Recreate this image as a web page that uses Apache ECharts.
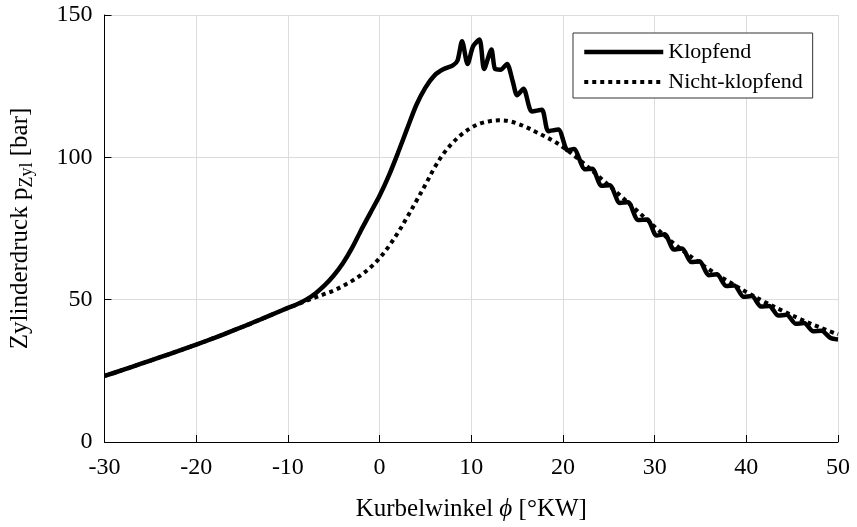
<!DOCTYPE html>
<html>
<head>
<meta charset="utf-8">
<script src="https://cdn.jsdelivr.net/npm/echarts@6/dist/echarts.min.js"></script>
<style>
html,body{margin:0;padding:0;background:#fff;}
#chart{width:857px;height:527px;}
</style>
</head>
<body>
<div id="chart"></div>
<script>
// Data
const xTicks = [-30, -20, -10, 0, 10, 20, 30, 40, 50];
const yTicks = [0, 50, 100, 150];

const seriesNames = ['Klopfend', 'Nicht-klopfend'];

// Knocking cycle (solid)
const phiKnock = [-30, -28, -26, -24, -22, -20, -18, -16, -14, -12, -10, -9, -8, -7, -6, -5, -4, -3, -2, -1,
  0, 1, 2, 3, 4, 5, 6, 7, 8, 8.5, 9.0, 9.6, 10.2, 10.9, 11.4, 12.2, 12.6, 13.2, 13.9, 14.5, 15.0, 15.7,
  16.6, 17.7, 18.4, 19.5, 20.5, 21.2, 22.4, 23.2, 24.2, 25.1, 26.2, 27.1, 28.2, 29.2, 30.2, 31.1, 32.1,
  33.0, 34.0, 34.9, 35.9, 36.8, 37.8, 38.7, 39.7, 40.6, 41.6, 42.5, 43.5, 44.4, 45.4, 46.3, 47.3, 48.2, 49.2, 50];
const pKnock = [23.2, 25.3, 27.5, 29.7, 31.9, 34.2, 36.6, 39.1, 41.7, 44.4, 47.1, 48.4, 50.0, 52.2, 55.0, 58.5, 62.8, 68.2, 74.5, 80.5,
  86.5, 93.5, 101.5, 110.0, 118.3, 124.5, 128.8, 131.0, 132.3, 134.0, 140.8, 132.8, 139.0, 141.4, 131.0, 137.9, 131.0, 130.8, 132.8, 127.0, 121.8, 124.1,
  116.1, 116.7, 109.2, 109.8, 102.5, 102.9, 95.8, 96.0, 90.0, 90.2, 84.0, 84.2, 78.0, 78.2, 72.5, 73.0, 67.6,
  68.0, 63.2, 63.5, 58.6, 58.9, 54.8, 55.0, 51.0, 51.3, 47.6, 47.8, 44.4, 44.7, 41.5, 41.8, 38.9, 39.1, 36.5, 36.0];

// Non-knocking cycle (dotted)
const phiNormal = [-30, -28, -26, -24, -22, -20, -18, -16, -14, -12, -10, -9, -8, -7, -6, -5, -4, -3, -2, -1,
  0, 1, 2, 3, 4, 5, 6, 7, 8, 9, 10, 11, 12, 13, 14, 15, 16, 17, 18, 19, 20, 22, 24, 26, 28, 30,
  32, 34, 36, 38, 40, 42, 44, 46, 48, 50];
const pNormal = [23.2, 25.3, 27.5, 29.7, 31.9, 34.2, 36.6, 39.1, 41.7, 44.4, 47.1, 48.3, 49.6, 50.8, 52.0, 53.2, 54.8, 56.6, 58.7, 61.3,
  64.6, 68.7, 73.5, 78.9, 84.6, 90.4, 96.4, 101.4, 105.2, 108.2, 110.4, 111.9, 112.7, 113.0, 112.8, 111.9, 110.6, 109.0, 107.4, 105.7, 103.6, 98.6, 93.0, 87.3, 81.5, 75.6,
  70.0, 65.0, 60.5, 56.5, 52.7, 49.2, 46.0, 43.0, 40.3, 37.8];

const FONT = '"Liberation Serif", "Times New Roman", "DejaVu Serif", serif';

const chart = echarts.init(document.getElementById('chart'), null, {renderer: 'canvas'});

const option = {
  backgroundColor: '#ffffff',
  animation: false,
  grid: {left: 100, right: 19, top: 15, bottom: 77, containLabel: false},
  legend: {
    orient: 'vertical',
    left: 573,
    top: 33,
    width: 244,
    padding: [6, 10, 3, 9],
    itemGap: 4,
    itemWidth: 79,
    itemHeight: 12,
    backgroundColor: '#ffffff',
    borderColor: '#333333',
    borderWidth: 1,
    borderRadius: 0,
    itemStyle: {color: 'rgba(0,0,0,0)', borderWidth: 0, borderColor: 'rgba(0,0,0,0)', opacity: 0},
    lineStyle: {width: 'inherit', type: 'inherit', color: '#000'},
    textStyle: {fontFamily: FONT, fontSize: 22, color: '#000', lineHeight: 26},
    data: seriesNames
  },
  xAxis: {
    type: 'value',
    min: xTicks[0],
    max: xTicks[xTicks.length - 1],
    interval: 10,
    name: '{a|Kurbelwinkel }{i|ϕ}{a| [°KW]}',
    nameLocation: 'middle',
    nameGap: 55,
    nameTextStyle: {
      rich: {
        a: {fontFamily: FONT, fontSize: 25, color: '#000'},
        i: {fontFamily: FONT, fontSize: 25, fontStyle: 'italic', color: '#000'}
      }
    },
    axisLine: {show: true, onZero: false, lineStyle: {color: '#000', width: 1}},
    axisTick: {show: true, inside: true, length: 7, lineStyle: {color: '#000', width: 1}},
    axisLabel: {fontFamily: FONT, fontSize: 24, color: '#000', margin: 14},
    splitLine: {show: true, lineStyle: {color: '#dcdcdc', width: 1}}
  },
  yAxis: {
    type: 'value',
    min: yTicks[0],
    max: yTicks[yTicks.length - 1],
    interval: 50,
    name: '{a|Zylinderdruck p}{s|Zyl}{a| [bar]}',
    nameLocation: 'middle',
    nameGap: 68,
    nameRotate: 90,
    nameTextStyle: {
      rich: {
        a: {fontFamily: FONT, fontSize: 25, color: '#000', lineHeight: 30},
        s: {fontFamily: FONT, fontSize: 18, color: '#000', padding: [14, 0, 0, 0]}
      }
    },
    axisLine: {show: true, onZero: false, lineStyle: {color: '#000', width: 1}},
    axisTick: {show: true, inside: true, length: 7, lineStyle: {color: '#000', width: 1}},
    axisLabel: {fontFamily: FONT, fontSize: 24, color: '#000', margin: 12},
    splitLine: {show: true, lineStyle: {color: '#dcdcdc', width: 1}}
  },
  series: [
    {
      name: seriesNames[0],
      type: 'line',
      data: phiKnock.map((x, i) => [x, pKnock[i]]),
      showSymbol: false,
      symbol: 'none',
      smooth: 0.25,
      lineStyle: {color: '#000', width: 4.5, type: 'solid'},
      itemStyle: {color: '#000'},
      z: 3
    },
    {
      name: seriesNames[1],
      type: 'line',
      data: phiNormal.map((x, i) => [x, pNormal[i]]),
      showSymbol: false,
      symbol: 'none',
      smooth: 0.35,
      lineStyle: {color: '#000', width: 4, type: [4, 4], cap: 'butt'},
      itemStyle: {color: '#000'},
      z: 2
    }
  ]
};
chart.setOption(option);
</script>
</body>
</html>
